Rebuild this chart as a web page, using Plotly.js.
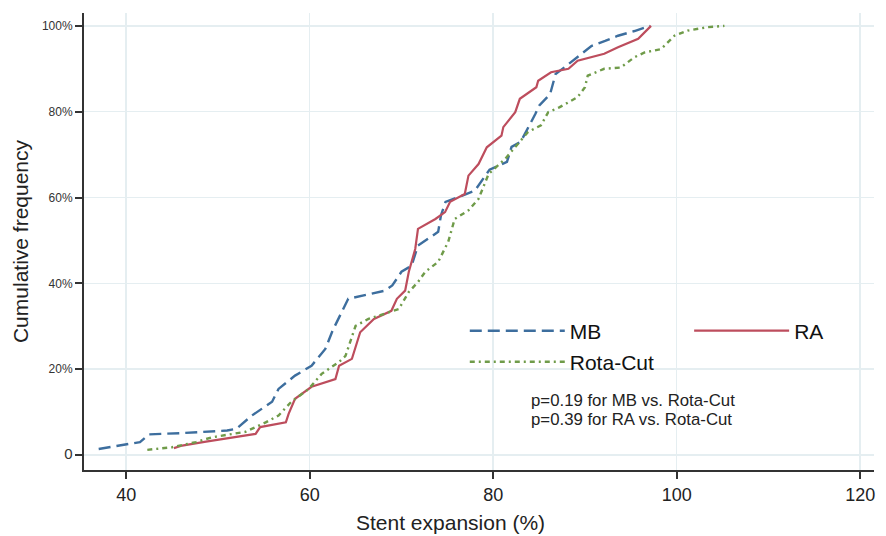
<!DOCTYPE html>
<html>
<head>
<meta charset="utf-8">
<script src="https://cdn.plot.ly/plotly-3.0.1.min.js"></script>
<style>html,body{margin:0;padding:0;background:#fff;}#chart{width:886px;height:536px;}</style>
</head>
<body>
<div id="chart"></div>
<script>
// Stent expansion (%) and cumulative frequency (%) for each group
const mbX = [37.0, 41.5, 42.5, 46.0, 51.0, 52.0, 53.7, 55.9, 56.6, 58.4, 60.2, 61.7, 62.5, 63.6, 64.2, 68.2, 69.0, 70.0, 71.1, 71.8, 74.0, 74.3, 74.8, 76.2, 78.0, 79.6, 81.5, 82.0, 83.0, 84.6, 85.0, 86.2, 86.8, 87.8, 89.2, 90.7, 92.2, 93.6, 95.4, 97.1];
const mbY = [1.4, 3.0, 4.8, 5.1, 5.7, 6.1, 9.2, 12.4, 15.4, 18.5, 20.8, 24.7, 29.0, 34.0, 36.4, 38.3, 39.5, 42.7, 44.1, 48.8, 52.0, 55.8, 59.0, 60.1, 61.6, 66.5, 68.3, 71.8, 73.0, 79.5, 81.4, 84.1, 88.8, 90.4, 92.8, 95.3, 96.5, 97.7, 98.8, 100];

const raX = [45.2, 46.1, 48.7, 54.1, 54.6, 57.4, 57.7, 58.4, 60.2, 62.8, 63.2, 64.6, 65.5, 67.0, 68.9, 69.5, 70.4, 70.8, 71.5, 71.8, 73.7, 74.75, 75.3, 76.9, 77.3, 78.4, 79.3, 80.9, 81.1, 82.4, 82.9, 84.7, 84.9, 86.3, 88.2, 89.2, 92.1, 93.6, 95.8, 97.2];
const raY = [1.6, 2.2, 3.1, 4.9, 6.5, 7.6, 9.6, 13.1, 15.9, 17.7, 20.8, 22.4, 28.6, 31.7, 33.6, 36.4, 38.3, 42.7, 48.0, 52.7, 55.0, 56.6, 59.0, 60.8, 65.1, 67.8, 71.7, 74.4, 76.4, 79.9, 83.0, 85.7, 87.2, 89.2, 90.0, 91.9, 93.5, 95.0, 97.0, 100];

const rcX = [42.3, 45.0, 47.6, 49.3, 53.0, 55.2, 56.6, 58.0, 59.9, 61.3, 63.2, 63.9, 65.0, 66.4, 69.7, 70.8, 71.8, 72.6, 74.0, 75.1, 75.8, 77.3, 78.4, 79.5, 81.3, 82.7, 83.8, 85.2, 86.0, 87.2, 89.2, 90.0, 90.3, 92.1, 93.9, 95.4, 96.5, 98.3, 99.75, 101.2, 103.4, 105.2];
const rcY = [1.2, 1.8, 3.0, 4.1, 5.4, 7.6, 9.2, 12.4, 15.4, 18.9, 21.7, 23.1, 30.1, 31.7, 34.0, 38.0, 40.3, 42.7, 45.0, 49.7, 55.0, 57.0, 59.7, 65.5, 69.0, 72.5, 75.3, 76.8, 79.9, 81.0, 83.4, 85.7, 88.4, 90.0, 90.3, 92.7, 93.8, 94.6, 97.7, 98.9, 99.7, 100];

const xTicks = [40, 60, 80, 100, 120];
const yTicks = [0, 20, 40, 60, 80, 100];
const yTickText = ['<span style="font-size:15px">0</span>', '20%', '40%', '60%', '80%', '100%'];

const names = ['MB', 'RA', 'Rota-Cut'];
const pTexts = ['p=0.19 for MB vs. Rota-Cut', 'p=0.39 for RA vs. Rota-Cut'];

const FONT = 'Liberation Sans, Arial, sans-serif';
const gridC = '#e5eef1';
const axisC = '#333333';

const traces = [
  {x: mbX, y: mbY, name: names[0], mode: 'lines', legend: 'legend',
   line: {color: '#3d6e9e', width: 2.4, dash: '12px,6px'}},
  {x: raX, y: raY, name: names[1], mode: 'lines', legend: 'legend2',
   line: {color: '#bd4d5d', width: 2.2, dash: 'solid'}},
  {x: rcX, y: rcY, name: names[2], mode: 'lines', legend: 'legend3',
   line: {color: '#6f9b49', width: 2.4, dash: '5px,4px,2px,4px'}}
];

const legendBase = {
  font: {family: FONT, size: 21, color: '#111'},
  bgcolor: 'rgba(0,0,0,0)', borderwidth: 0,
  itemwidth: 95, xanchor: 'left', yanchor: 'middle',
  itemclick: false, itemdoubleclick: false
};

const layout = {
  width: 886, height: 536,
  margin: {l: 84, r: 12, t: 13, b: 66},
  paper_bgcolor: '#fff', plot_bgcolor: '#fff',
  font: {family: FONT, color: '#222'},
  showlegend: true,
  legend: Object.assign({}, legendBase, {x: 0.482, y: 0.304}),
  legend2: Object.assign({}, legendBase, {x: 0.766, y: 0.304}),
  legend3: Object.assign({}, legendBase, {x: 0.482, y: 0.236}),
  xaxis: {
    range: [35.4, 121.5], tickvals: xTicks, ticktext: xTicks.map(String),
    showgrid: true, gridcolor: gridC, gridwidth: 1.5, zeroline: false,
    showline: true, linecolor: axisC, linewidth: 2,
    ticks: 'outside', ticklen: 7, tickwidth: 2, tickcolor: axisC,
    tickfont: {family: FONT, size: 18, color: '#222'}
  },
  yaxis: {
    range: [-3.5, 103], tickvals: yTicks, ticktext: yTickText,
    showgrid: true, gridcolor: gridC, gridwidth: 1.5, zeroline: false,
    showline: true, linecolor: axisC, linewidth: 2,
    ticks: 'outside', ticklen: 7, tickwidth: 2, tickcolor: axisC,
    tickfont: {family: FONT, size: 12, color: '#333'},
    title: {text: 'Cumulative frequency', font: {family: FONT, size: 21, color: '#222'}, standoff: 8}
  },
  shapes: [
    {type: 'rect', xref: 'paper', yref: 'paper', layer: 'between',
     x0: (462 - 84) / 790, x1: (838 - 84) / 790, y0: (470 - 398) / 457, y1: (470 - 307) / 457,
     fillcolor: '#fff', line: {width: 0}},
    {type: 'rect', xref: 'paper', yref: 'paper', layer: 'between',
     x0: (520 - 84) / 790, x1: (745 - 84) / 790, y0: (470 - 433) / 457, y1: (470 - 396) / 457,
     fillcolor: '#fff', line: {width: 0}}
  ],
  annotations: [
    {text: 'Stent expansion (%)', xref: 'paper', yref: 'paper', x: (450 - 84) / 790, y: (470 - 522) / 457,
     xanchor: 'center', yanchor: 'middle', showarrow: false, font: {family: FONT, size: 21, color: '#222'}},
    {text: pTexts[0], xref: 'paper', yref: 'paper', x: (529 - 84) / 790, y: (470 - 400) / 457,
     xanchor: 'left', yanchor: 'middle', showarrow: false, font: {family: FONT, size: 16.8, color: '#222'}},
    {text: pTexts[1], xref: 'paper', yref: 'paper', x: (529 - 84) / 790, y: (470 - 419) / 457,
     xanchor: 'left', yanchor: 'middle', showarrow: false, font: {family: FONT, size: 16.8, color: '#222'}}
  ]
};

Plotly.newPlot('chart', traces, layout, {displayModeBar: false, staticPlot: true});
</script>
</body>
</html>
